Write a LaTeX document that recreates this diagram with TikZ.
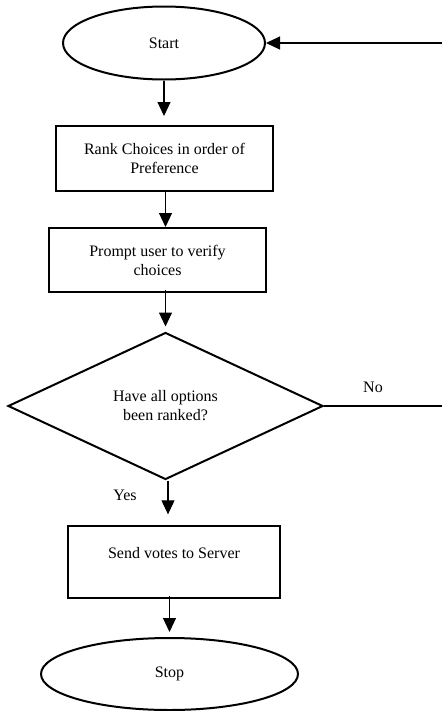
\documentclass[tikz,border=0pt]{standalone}
\usepackage{fontspec}
\setmainfont{Liberation Serif}
\usetikzlibrary{shapes.geometric,arrows.meta,calc,positioning}

\begin{document}
\begin{tikzpicture}[x=0.75pt,y=-0.75pt,
  font=\fontsize{12}{14.25}\selectfont,
  terminal/.style={ellipse,draw,line width=1.5pt,inner sep=0pt},
  process/.style={rectangle,draw,line width=1.5pt,align=center,inner sep=0pt},
  decision/.style={diamond,draw,line width=1.5pt,align=center,inner sep=0pt,aspect=2.14},
  flow/.style={-{Triangle[length=10.5pt,width=9.75pt]},line width=0.8pt}]
  \useasboundingbox (0,0) rectangle (442,711);
  \node [terminal, minimum width=151.5pt, minimum height=54.75pt] (start) at (164,43) {Start}; %top of the chart
  %the steps, each placed from the one above it
  \node [process, minimum width=162.75pt, minimum height=48.75pt] (rank) at ($(start) + (0.5,115.5)$) {Rank Choices in order of\\Preference};
  \node [process, minimum width=162.75pt, minimum height=48pt] (prompt) at ($(rank) + (-7,101.5)$) {Prompt user to verify\\choices};
  \node [decision, minimum width=236.25pt, minimum height=110.25pt] (dec) at ($(prompt) + (8,146)$) {Have all options\\been ranked?};
  \node [process, minimum width=159pt, minimum height=54pt] (send) at ($(dec) + (8.5,156)$) {Send votes to Server\\ \mbox{}};
  \node [terminal, minimum width=192.75pt, minimum height=54pt] (stop) at ($(send) + (-4.5,112)$) {Stop};
  %ends of the loop back (it runs off the right edge)
  \coordinate (noEnd) at (442,406);
  \coordinate (loopIn) at (start.east -| noEnd);
  %main flow
  \draw [flow, shorten >=6.75pt] (start.south) -- (start.south |- rank.north);
  \draw [flow] (rank.south -| dec.north) -- (prompt.north -| dec.north);
  \draw [flow, shorten >=3.75pt] ($(prompt.south -| dec.north) + (0,-3)$) -- (dec.north);
  \draw [flow, shorten >=8pt] ($(dec.south) + (2.5,0)$) -- ($(dec.south |- send.north) + (2.5,0)$);
  \draw [flow, shorten >=3.75pt] ($(send.south -| stop.north) + (0,-3)$) -- (stop.north);
  %branch labels
  \node (yes) at (125,495) {Yes};
  \node (no) at (373,387) {No};
  %loop back
  \draw [line width=0.8pt] (dec.east) -- (noEnd);
  \draw [flow] (loopIn) -- (start.east);
\end{tikzpicture}
\end{document}
